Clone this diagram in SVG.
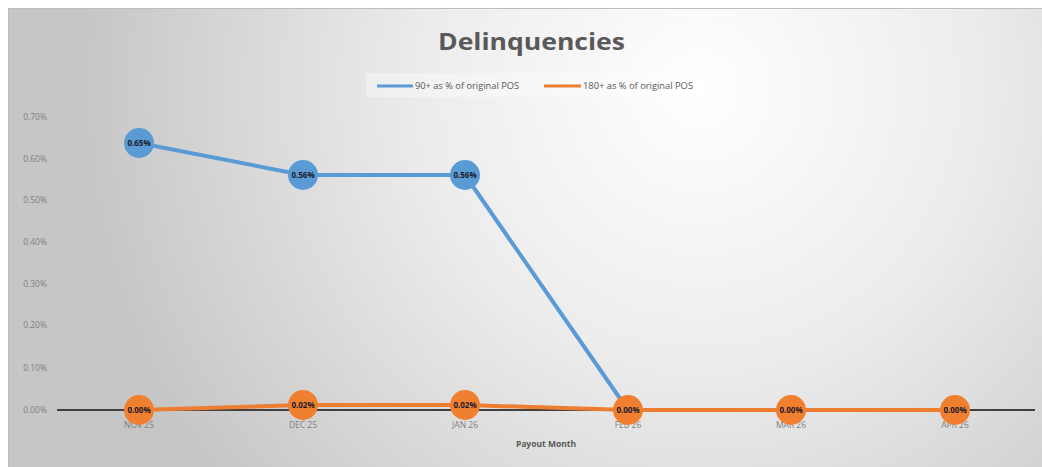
<svg xmlns="http://www.w3.org/2000/svg" width="1042" height="467" viewBox="0 0 1042 467">
  <defs>
    <radialGradient id="bg" cx="700" cy="90" r="620" gradientUnits="userSpaceOnUse">
      <stop offset="0" stop-color="#ffffff"/>
      <stop offset="0.45" stop-color="#ececec"/>
      <stop offset="1" stop-color="#c6c6c6"/>
    </radialGradient>
    <style>
      .ytick { font-family: "Open Sans", "Liberation Sans", sans-serif; font-size: 8.5px; fill: #7f7f7f; text-anchor: end; }
      .xtick { font-family: "Open Sans", "Liberation Sans", sans-serif; font-size: 8.5px; fill: #7f7f7f; text-anchor: middle; }
      .lbl { font-family: "Open Sans", "Liberation Sans", sans-serif; font-size: 8px; font-weight: bold; fill: #1a1a2a; text-anchor: middle; }
      .legend { font-family: "Open Sans", "Liberation Sans", sans-serif; font-size: 8.5px; fill: #595959; }
      .blue-line { fill: none; stroke: #5b9bd5; stroke-width: 4; stroke-linejoin: round; }
      .orange-line { fill: none; stroke: #ed7d31; stroke-width: 4; stroke-linejoin: round; }
      .blue-dot { fill: #5b9bd5; }
      .orange-dot { fill: #f08030; }
    </style>
  </defs>

  <!-- page and chart area -->
  <rect x="0" y="0" width="1042" height="467" fill="#ffffff"/>
  <rect x="8" y="8" width="1034" height="459" fill="url(#bg)"/>
  <line x1="8" y1="8.5" x2="1042" y2="8.5" stroke="#bdbdbd" stroke-width="1"/>
  <line x1="8.5" y1="8" x2="8.5" y2="467" stroke="#bdbdbd" stroke-width="1"/>

  <!-- title -->
  <text x="438" y="50" textLength="187" lengthAdjust="spacingAndGlyphs" font-family="'Open Sans', 'Liberation Sans', sans-serif" font-size="24" font-weight="bold" fill="#595959">Delinquencies</text>

  <!-- legend -->
  <g id="legend">
    <rect x="366" y="73" width="346" height="24" fill="#ffffff" opacity="0.35"/>
    <line x1="377" y1="86" x2="413" y2="86" stroke="#5b9bd5" stroke-width="3"/>
    <text class="legend" x="415" y="89" textLength="104" lengthAdjust="spacingAndGlyphs">90+ as % of original POS</text>
    <line x1="544" y1="86" x2="581" y2="86" stroke="#ed7d31" stroke-width="3"/>
    <text class="legend" x="583" y="89" textLength="110" lengthAdjust="spacingAndGlyphs">180+ as % of original POS</text>
  </g>

  <!-- value axis -->
  <g id="y-axis">
    <text class="ytick" x="47" y="120">0.70%</text>
    <text class="ytick" x="47" y="162">0.60%</text>
    <text class="ytick" x="47" y="203">0.50%</text>
    <text class="ytick" x="47" y="245">0.40%</text>
    <text class="ytick" x="47" y="287">0.30%</text>
    <text class="ytick" x="47" y="328">0.20%</text>
    <text class="ytick" x="47" y="371">0.10%</text>
    <text class="ytick" x="47" y="413">0.00%</text>
  </g>

  <!-- category axis -->
  <g id="x-axis">
    <line x1="57" y1="410" x2="1035" y2="410" stroke="#404040" stroke-width="2"/>
    <text class="xtick" x="139" y="428">NOV 25</text>
    <text class="xtick" x="303" y="428">DEC 25</text>
    <text class="xtick" x="465" y="428">JAN 26</text>
    <text class="xtick" x="628" y="428">FEB 26</text>
    <text class="xtick" x="791" y="428">MAR 26</text>
    <text class="xtick" x="955" y="428">APR 26</text>
    <text x="546" y="447" font-family="'Open Sans', 'Liberation Sans', sans-serif" font-size="8.5" font-weight="bold" fill="#595959" text-anchor="middle">Payout Month</text>
  </g>

  <!-- series lines -->
  <g id="connectors">
    <polyline class="blue-line" points="139,143 303,175 465,175 628,410"/>
    <polyline class="orange-line" points="139,410 303,405 465,405 628,410 791,410 955,410"/>
  </g>

  <!-- 90+ series points -->
  <g id="p90-nov"><circle class="blue-dot" cx="139" cy="143" r="15"/><text class="lbl" x="139" y="146">0.65%</text></g>
  <g id="p90-dec"><circle class="blue-dot" cx="303" cy="175" r="15"/><text class="lbl" x="303" y="178">0.56%</text></g>
  <g id="p90-jan"><circle class="blue-dot" cx="465" cy="175" r="15"/><text class="lbl" x="465" y="178">0.56%</text></g>

  <!-- 180+ series points -->
  <g id="p180-nov"><circle class="orange-dot" cx="139" cy="410" r="15"/><text class="lbl" x="139" y="413">0.00%</text></g>
  <g id="p180-dec"><circle class="orange-dot" cx="303" cy="405" r="15"/><text class="lbl" x="303" y="408">0.02%</text></g>
  <g id="p180-jan"><circle class="orange-dot" cx="465" cy="405" r="15"/><text class="lbl" x="465" y="408">0.02%</text></g>
  <g id="p180-feb"><circle class="orange-dot" cx="628" cy="410" r="15"/><text class="lbl" x="628" y="413">0.00%</text></g>
  <g id="p180-mar"><circle class="orange-dot" cx="791" cy="410" r="15"/><text class="lbl" x="791" y="413">0.00%</text></g>
  <g id="p180-apr"><circle class="orange-dot" cx="955" cy="410" r="15"/><text class="lbl" x="955" y="413">0.00%</text></g>
</svg>
